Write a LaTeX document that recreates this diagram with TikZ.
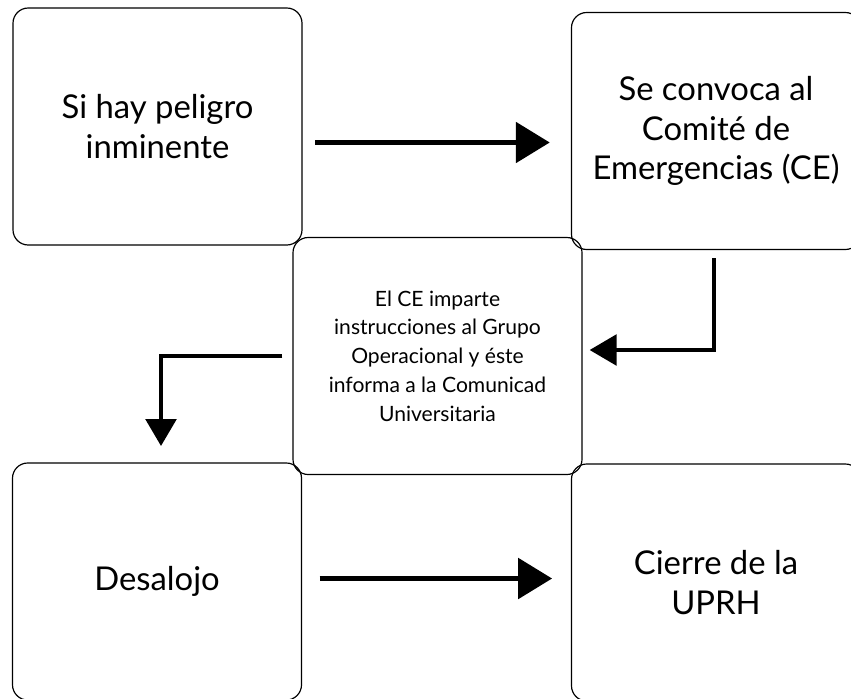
\documentclass[tikz,border=0pt]{standalone}
\usepackage{fontspec}
\setmainfont{Lato}
\usetikzlibrary{arrows.meta,calc}
\tikzset{
  stepbox/.style={draw=black, line width=1pt, rounded corners=13pt,
    minimum width=8.67cm, minimum height=7.11cm, inner sep=0pt, align=center,
    font=\fontsize{28}{34}\selectfont},
  bigarrow/.style={line width=5pt, -{Triangle[length=29pt,width=34pt]}},
  bendarrow/.style={line width=3.5pt, -{Triangle[length=23pt,width=26pt]}}
}
\begin{document}
\begin{tikzpicture}[x=0.03cm, y=-0.03cm]
    \useasboundingbox (0,0) rectangle (851,698);
    %% the four large boxes, corners of the grid
    \node[stepbox] (tl) at (157.5,126.5) {Si hay peligro\\inminente};
    \node[stepbox] (tr) at (716,131) {Se convoca al\\Comité de\\Emergencias (CE)};
    \node[stepbox] (bl) at (157,581.5) {Desalojo};
    \node[stepbox] (br) at (716,582.5) {Cierre de la\\UPRH};
    %% middle box, smaller text
    \node[stepbox, font=\fontsize{18}{24.5}\selectfont] (mid) at (437.5,356)
    {El CE imparte\\instrucciones al Grupo\\Operacional y éste\\informa a la Comunicad\\Universitaria};

    \draw[bigarrow, shorten <=11pt, shorten >=18pt]
    ($(tl.east)+(0,16)$) -- ($(tl.east -| tr.west)+(0,16)$);
    \draw[bendarrow, shorten <=7pt, shorten >=6pt]
    ($(tr.south)+(-2,0)$) |- ($(mid.east)+(0,-6)$);
    \draw[bendarrow, shorten <=8.5pt, shorten >=14pt]
    (mid.west) -| ($(bl.north)+(4,0)$);
    \draw[bigarrow, shorten <=15pt, shorten >=16pt]
    ($(bl.east)+(0,-3)$) -- ($(bl.east -| br.west)+(0,-3)$);
\end{tikzpicture}
\end{document}
